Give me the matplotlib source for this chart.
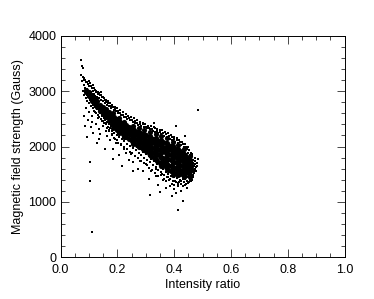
import matplotlib
matplotlib.use("Agg")
import matplotlib.pyplot as plt
from matplotlib.ticker import MultipleLocator

plt.rcParams["font.family"] = ["Liberation Sans", "DejaVu Sans"]

# solid middle of the cloud, one list of field
# values per intensity column (drawn with fat dots so it closes up)
core_cols = [0.09, 0.10, 0.11, 0.12, 0.13, 0.14, 0.15, 0.16, 0.17, 0.18,
             0.19, 0.20, 0.21, 0.22, 0.23, 0.24, 0.25, 0.26, 0.27, 0.28,
             0.29, 0.30, 0.31, 0.32, 0.33, 0.34, 0.35, 0.36, 0.37, 0.38,
             0.39, 0.40, 0.41, 0.42, 0.43, 0.44, 0.45, 0.46,
             0.185, 0.205, 0.225, 0.255, 0.275, 0.295, 0.315, 0.335, 0.355, 0.375,
             0.395, 0.415, 0.435, 0.455]
core_vals = [
    [3030, 2990],
    [2980, 2920],
    [2930, 2870, 2830],
    [2870, 2820, 2770],
    [2820, 2760, 2710],
    [2760, 2700, 2650],
    [2710, 2650, 2590],
    [2670, 2610, 2560, 2530],
    [2620, 2560, 2510, 2470],
    [2570, 2510, 2460, 2410],
    [2530, 2470, 2410, 2350],
    [2490, 2430, 2370, 2300],
    [2450, 2390, 2330, 2260],
    [2420, 2360, 2290, 2220],
    [2390, 2320, 2250, 2180],
    [2360, 2290, 2220, 2140],
    [2330, 2260, 2190, 2100],
    [2300, 2230, 2160, 2070],
    [2270, 2200, 2120, 2030],
    [2250, 2180, 2100, 2000],
    [2220, 2150, 2070, 1990, 1960],
    [2200, 2120, 2040, 1970, 1920],
    [2180, 2100, 2020, 1950, 1880],
    [2160, 2080, 2000, 1920, 1830],
    [2140, 2060, 1980, 1880, 1790],
    [2120, 2040, 1950, 1860, 1740],
    [2100, 2020, 1930, 1830, 1700],
    [2080, 2000, 1910, 1800, 1720, 1660],
    [2060, 1980, 1890, 1790, 1700, 1620],
    [2030, 1950, 1870, 1770, 1670, 1580],
    [2010, 1930, 1850, 1750, 1640, 1550],
    [1980, 1900, 1820, 1720, 1610, 1520],
    [1960, 1880, 1790, 1700, 1600, 1510],
    [1920, 1840, 1760, 1670, 1580, 1500],
    [1890, 1810, 1730, 1650, 1570, 1500],
    [1840, 1770, 1700, 1630, 1560, 1510],
    [1790, 1720, 1660, 1600, 1530],
    [1710, 1650, 1600, 1570],
    [2600, 2530, 2470, 2400, 2340],
    [2520, 2460, 2390, 2320, 2250],
    [2440, 2380, 2310, 2240, 2170],
    [2370, 2310, 2240, 2170, 2110, 2050],
    [2330, 2260, 2190, 2120, 2050, 1990],
    [2290, 2220, 2150, 2080, 2010, 1940],
    [2270, 2190, 2110, 2040, 1970, 1900, 1840],
    [2230, 2150, 2070, 2000, 1920, 1840, 1770],
    [2190, 2110, 2030, 1960, 1880, 1790, 1710, 1650],
    [2150, 2070, 1990, 1920, 1840, 1750, 1670, 1600],
    [2090, 2010, 1930, 1860, 1790, 1700, 1620, 1540, 1490],
    [2030, 1950, 1880, 1810, 1730, 1650, 1560, 1490],
    [1950, 1870, 1790, 1720, 1640, 1560, 1490, 1450],
    [1830, 1760, 1690, 1620, 1560, 1490, 1440],
]

# speckle along the upper side of the band
upper_x = [0.072, 0.075, 0.078, 0.081, 0.084, 0.087, 0.090, 0.093, 0.096, 0.099,
           0.102, 0.105, 0.108, 0.111, 0.114, 0.117, 0.120, 0.123, 0.126, 0.129,
           0.132, 0.135, 0.138, 0.141, 0.144, 0.147, 0.150, 0.153, 0.156, 0.159,
           0.163, 0.167, 0.171, 0.175, 0.179, 0.183, 0.187, 0.191, 0.195, 0.199,
           0.204, 0.209, 0.214, 0.219, 0.224, 0.229, 0.234, 0.239, 0.244, 0.249,
           0.254, 0.259, 0.264, 0.269, 0.274, 0.279, 0.284, 0.289, 0.294, 0.299,
           0.304, 0.309, 0.314, 0.319, 0.324, 0.329, 0.334, 0.339, 0.344, 0.349,
           0.354, 0.359, 0.364, 0.369, 0.374, 0.379, 0.384, 0.389, 0.394, 0.399,
           0.404, 0.409, 0.414, 0.419, 0.424, 0.429, 0.434, 0.439, 0.444, 0.449]
upper_y = [3300, 3180, 3260, 3120, 3210, 3060, 3170, 3040, 3130, 3010,
           3100, 3150, 2990, 3060, 3000, 2950, 3030, 2920, 2980, 2900,
           2950, 2870, 2930, 2990, 2850, 2900, 2820, 2880, 2790, 2840,
           2760, 2820, 2730, 2780, 2700, 2750, 2660, 2720, 2640, 2690,
           2610, 2660, 2570, 2620, 2540, 2590, 2500, 2560, 2480, 2530,
           2440, 2510, 2420, 2480, 2390, 2450, 2370, 2430, 2350, 2410,
           2330, 2380, 2310, 2370, 2280, 2350, 2260, 2320, 2240, 2300,
           2220, 2290, 2190, 2260, 2170, 2240, 2140, 2210, 2120, 2180,
           2090, 2160, 2060, 2120, 2030, 2080, 2000, 2040, 1960, 1990]

# second pass, out past the upper edge
upper2_x = [0.083, 0.088, 0.094, 0.101, 0.107, 0.113, 0.119, 0.125, 0.131, 0.137,
            0.143, 0.149, 0.155, 0.161, 0.169, 0.177, 0.185, 0.193, 0.201, 0.211,
            0.221, 0.231, 0.241, 0.251, 0.261, 0.271, 0.281, 0.291, 0.301, 0.311,
            0.321, 0.331, 0.341, 0.351, 0.361, 0.371, 0.381, 0.391, 0.401, 0.411,
            0.421, 0.431, 0.441, 0.451, 0.458]
upper2_y = [3240, 3210, 3160, 3180, 3090, 3110, 3060, 3010, 2990, 2960,
            2930, 2900, 2850, 2800, 2790, 2740, 2710, 2670, 2640, 2600,
            2570, 2530, 2510, 2480, 2460, 2430, 2410, 2400, 2360, 2340,
            2320, 2330, 2280, 2260, 2250, 2230, 2190, 2170, 2130, 2110,
            2090, 2050, 1990, 1930, 1880]

# speckle below the band
lower_x = [0.080, 0.083, 0.086, 0.089, 0.092, 0.095, 0.098, 0.101, 0.104, 0.107,
           0.110, 0.113, 0.116, 0.119, 0.122, 0.125, 0.128, 0.131, 0.134, 0.137,
           0.140, 0.143, 0.146, 0.149, 0.152, 0.155, 0.158, 0.161, 0.164, 0.167,
           0.170, 0.174, 0.178, 0.182, 0.186, 0.190, 0.194, 0.198, 0.202, 0.206,
           0.210, 0.215, 0.220, 0.225, 0.230, 0.235, 0.240, 0.245, 0.250, 0.255,
           0.260, 0.265, 0.270, 0.275, 0.280, 0.285, 0.290, 0.295, 0.300, 0.305,
           0.310, 0.315, 0.320, 0.325, 0.330, 0.335, 0.340, 0.345, 0.350, 0.355,
           0.360, 0.365, 0.370, 0.375, 0.380, 0.385, 0.390, 0.395, 0.400, 0.405,
           0.410, 0.415, 0.420, 0.425, 0.430, 0.435, 0.440, 0.445, 0.450, 0.455]
lower_y = [3000, 2940, 2980, 2880, 2930, 2830, 2890, 2790, 2850, 2740,
           2800, 2690, 2760, 2650, 2720, 2610, 2680, 2570, 2640, 2530,
           2600, 2500, 2560, 2470, 2520, 2430, 2480, 2400, 2450, 2360,
           2410, 2330, 2370, 2280, 2340, 2240, 2300, 2200, 2260, 2170,
           2230, 2130, 2190, 2100, 2140, 2050, 2110, 2010, 2060, 1980,
           2020, 1930, 1990, 1880, 1950, 1850, 1900, 1800, 1860, 1760,
           1820, 1720, 1770, 1670, 1730, 1620, 1680, 1570, 1640, 1530,
           1590, 1480, 1540, 1440, 1500, 1410, 1470, 1380, 1440, 1360,
           1430, 1340, 1400, 1370, 1420, 1350, 1410, 1380, 1440, 1400]

# second pass below, a little further out
lower2_x = [0.152, 0.163, 0.172, 0.181, 0.192, 0.203, 0.213, 0.222, 0.233, 0.243,
            0.252, 0.263, 0.273, 0.283, 0.293, 0.303, 0.313, 0.323, 0.333, 0.343,
            0.353, 0.363, 0.373, 0.383, 0.393, 0.403, 0.413, 0.423, 0.433, 0.443,
            0.453, 0.461, 0.338, 0.358, 0.378, 0.398, 0.418, 0.438, 0.448, 0.458]
lower2_y = [2420, 2340, 2280, 2200, 2130, 2060, 2030, 1990, 1950, 1900,
            1890, 1820, 1790, 1730, 1700, 1660, 1610, 1580, 1520, 1470,
            1480, 1420, 1370, 1400, 1330, 1370, 1300, 1330, 1290, 1320,
            1350, 1420, 1590, 1500, 1440, 1300, 1350, 1300, 1340, 1380]

# right hand edge of the blob
right_x = [0.450, 0.455, 0.458, 0.460, 0.463, 0.465, 0.466, 0.468, 0.470, 0.470,
           0.472, 0.473, 0.475, 0.476, 0.468, 0.462, 0.464, 0.471, 0.467, 0.474]
right_y = [1880, 1840, 1790, 1500, 1830, 1760, 1480, 1700, 1650, 1550,
           1600, 1740, 1680, 1620, 1440, 1400, 1860, 1520, 1570, 1790]

# loose points well under the band
loose_x = [0.082, 0.088, 0.090, 0.094, 0.098, 0.100, 0.103, 0.106, 0.110, 0.112,
           0.116, 0.120, 0.124, 0.128, 0.132, 0.136, 0.140, 0.145, 0.150, 0.155,
           0.160, 0.165, 0.170, 0.175, 0.180, 0.185, 0.190, 0.195, 0.200, 0.205,
           0.212, 0.218, 0.225, 0.232, 0.240, 0.248, 0.256, 0.264, 0.272, 0.280,
           0.290, 0.300, 0.310, 0.320, 0.335, 0.345, 0.350, 0.362, 0.372, 0.385,
           0.392, 0.400, 0.408, 0.415, 0.425, 0.432, 0.445, 0.255, 0.185, 0.135]
loose_y = [2550, 2380, 2700, 2180, 2480, 2620, 1720, 2350, 2560, 2450,
           2250, 2620, 2400, 2060, 2520, 2310, 2230, 2460, 2380, 1950,
           2280, 2190, 2300, 2120, 2220, 1960, 2150, 2070, 2120, 1850,
           2040, 1640, 1950, 1880, 1760, 1860, 1720, 1820, 1600, 1740,
           1560, 1680, 1420, 1550, 1460, 1300, 1180, 1400, 1250, 1290,
           1100, 1230, 1150, 1280, 1190, 1020, 1250, 1560, 1770, 2130]

# isolated points far from the cloud
outlier_x = [0.073, 0.077, 0.080, 0.105, 0.110, 0.315, 0.415, 0.483, 0.482, 0.485,
             0.330, 0.405, 0.440, 0.480, 0.478]
outlier_y = [3560, 3460, 3420, 1370, 460, 1120, 850, 2660, 1700, 1780,
             2420, 2380, 2190, 1650, 1560]

x_ticks = [0.0, 0.2, 0.4, 0.6, 0.8, 1.0]
y_ticks = [0, 1000, 2000, 3000, 4000]

core_x = [c for c, vals in zip(core_cols, core_vals) for _ in vals]
core_y = [v for vals in core_vals for v in vals]

fig = plt.figure(figsize=(3.74, 2.99), dpi=100)
ax = fig.add_axes([60.5 / 374, 42 / 299, 284 / 374, 221 / 299])

ax.scatter(core_x, core_y, s=14, c="k", marker="o", linewidths=0)
for xs, ys in [(upper_x, upper_y), (upper2_x, upper2_y), (lower_x, lower_y),
               (lower2_x, lower2_y), (right_x, right_y), (loose_x, loose_y),
               (outlier_x, outlier_y)]:
    ax.scatter(xs, ys, s=0.7, c="k", marker="s", linewidths=0)

ax.set_xlim(0, 1)
ax.set_ylim(0, 4000)
ax.set_xticks(x_ticks)
ax.set_yticks(y_ticks)
ax.xaxis.set_minor_locator(MultipleLocator(0.05))
ax.yaxis.set_minor_locator(MultipleLocator(200))
ax.tick_params(which="major", direction="in", top=True, right=True, length=6,
               width=0.5, labelsize=9, pad=3)
ax.tick_params(which="minor", direction="in", top=True, right=True, length=3,
               width=0.5)
ax.tick_params(axis="x", which="major", pad=5)
for s in ax.spines.values():
    s.set_linewidth(0.7)

ax.set_xlabel("Intensity ratio", fontsize=9, labelpad=2)
ax.set_ylabel("Magnetic field strength (Gauss)", fontsize=9, labelpad=3)

fig.savefig("out.png", dpi=100)
